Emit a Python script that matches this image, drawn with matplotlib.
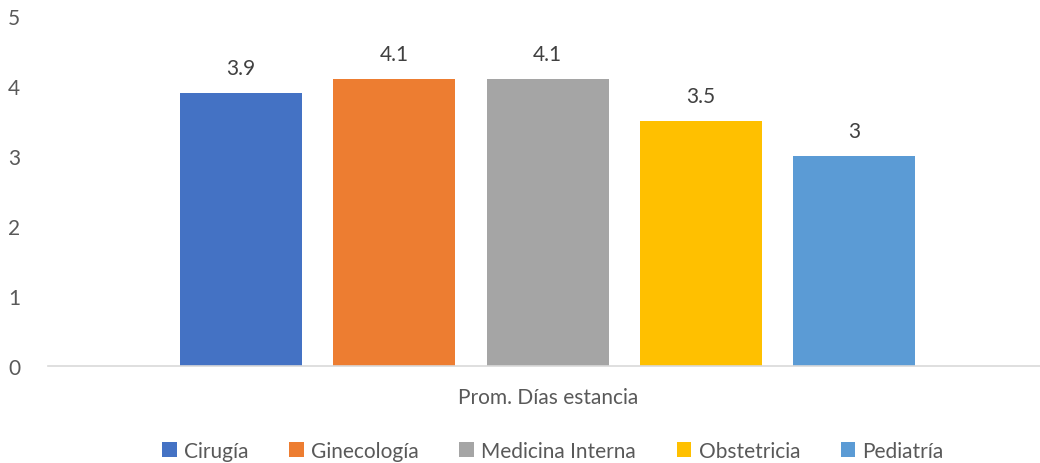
import matplotlib
matplotlib.use("Agg")
import matplotlib.pyplot as plt
from matplotlib.patches import Patch

categories = ["Cirugía", "Ginecología", "Medicina Interna", "Obstetricia", "Pediatría"]
values = [3.9, 4.1, 4.1, 3.5, 3.0]
value_labels = ["3.9", "4.1", "4.1", "3.5", "3"]
colors = ["#4472C4", "#ED7D31", "#A5A5A5", "#FFC000", "#5B9BD5"]
group_label = "Prom. Días estancia"
yticks = [0, 1, 2, 3, 4, 5]

plt.rcParams['font.family'] = ['Lato', 'DejaVu Sans']
txt = "#595959"
fs = 15

fig = plt.figure(figsize=(10.4, 4.64), dpi=100)
ax = fig.add_axes([48/1040, 1 - 367/464, (1040-48)/1040, 350/464])

xs = list(range(len(categories)))
ax.bar(xs, values, width=0.795, color=colors, zorder=2)
for x, v, l in zip(xs, values, value_labels):
    ax.text(x, v + 0.21, l, ha="center", va="bottom", fontsize=fs, color="#404040")

ax.set_ylim(0, 5)
ax.set_xlim(-1.258, 5.21)
ax.set_yticks(yticks)
ax.set_yticklabels([str(t) for t in yticks], fontsize=fs, color=txt)
ax.tick_params(axis="y", length=0, pad=20)
ax.set_xticks([])
for s in ["top", "right", "left"]:
    ax.spines[s].set_visible(False)
ax.spines["bottom"].set_color("#D9D9D9")
ax.spines["bottom"].set_linewidth(1.2)

ax.text(2, -0.44, group_label, ha="center", va="center", fontsize=fs, color=txt)

handles = [Patch(facecolor=c, edgecolor="none") for c in colors]
fig.legend(handles, categories, loc="center", bbox_to_anchor=(553/1040, 1 - 452/464),
           ncol=5, frameon=False, fontsize=fs, labelcolor=txt,
           handlelength=0.7, handleheight=0.7, handletextpad=0.35, columnspacing=1.95)

fig.savefig("out.png", dpi=100)
